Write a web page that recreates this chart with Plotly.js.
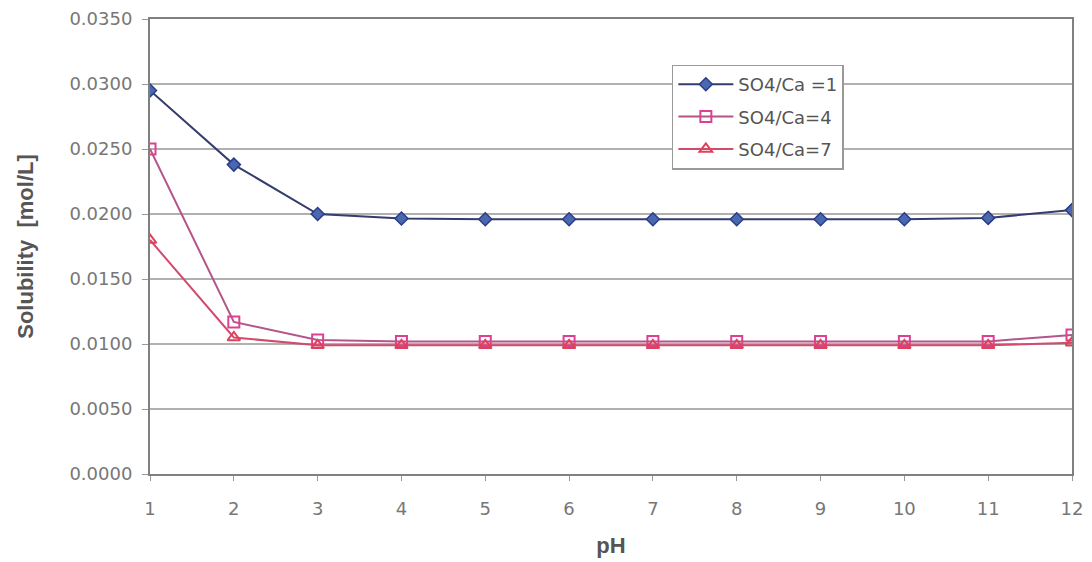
<!DOCTYPE html>
<html>
<head>
<meta charset="utf-8">
<script src="https://cdn.plot.ly/plotly-3.0.1.min.js"></script>
<style>html,body{margin:0;padding:0;background:#fff;}#chart{width:1092px;height:562px;}</style>
</head>
<body>
<div id="chart"></div>
<script>
const pH = [1, 2, 3, 4, 5, 6, 7, 8, 9, 10, 11, 12];
const ratio1 = [0.0295, 0.0238, 0.0200, 0.01965, 0.0196, 0.0196, 0.0196, 0.0196, 0.0196, 0.0196, 0.0197, 0.0203];
const ratio4 = [0.0250, 0.0117, 0.0103, 0.0102, 0.0102, 0.0102, 0.0102, 0.0102, 0.0102, 0.0102, 0.0102, 0.0107];
const ratio7 = [0.0180, 0.0105, 0.0099, 0.0099, 0.0099, 0.0099, 0.0099, 0.0099, 0.0099, 0.0099, 0.0099, 0.0101];
const seriesNames = ["SO4/Ca =1", "SO4/Ca=4", "SO4/Ca=7"];
const yTicks = [0, 0.005, 0.010, 0.015, 0.020, 0.025, 0.030, 0.035];

const traces = [
  {x: pH, y: ratio1, name: seriesNames[0], legendgroup: "a", mode: "lines+markers",
   line: {color: "#353c6e", width: 2},
   marker: {symbol: "diamond", size: 10, color: "#4a68b0", line: {color: "#2c3c86", width: 1.5}}},
  {x: pH, y: ratio4, name: seriesNames[1], legendgroup: "b", mode: "lines+markers",
   line: {color: "#b4558a", width: 2},
   marker: {symbol: "square-open", size: 11, color: "#dd4090", line: {width: 2}}},
  {x: pH, y: ratio7, name: seriesNames[2], legendgroup: "c", mode: "lines+markers",
   line: {color: "#d24a6c", width: 2},
   marker: {symbol: "triangle-up-open", size: 11, color: "#e0405a", line: {width: 2}}}
];

const layout = {
  width: 1092, height: 562,
  paper_bgcolor: "#fff", plot_bgcolor: "#fff",
  margin: {l: 150, r: 20, t: 19, b: 88},
  showlegend: true,
  legend: {x: 0.566, y: 0.9, xanchor: "left", yanchor: "top",
    bgcolor: "#fff", bordercolor: "#999", borderwidth: 1.5,
    font: {family: "DejaVu Sans", size: 18, color: "#555"},
    traceorder: "grouped", tracegroupgap: 6, itemwidth: 55},
  xaxis: {
    range: [1, 12], tickvals: pH, ticktext: pH.map(String),
    showgrid: false, zeroline: false,
    showline: true, linecolor: "#808080", linewidth: 2, mirror: true,
    ticks: "outside", ticklen: 5, tickcolor: "#999",
    ticklabelstandoff: 12,
    tickfont: {family: "DejaVu Sans", size: 18, color: "#777"},
    title: {text: "pH", font: {family: "Liberation Sans", size: 22, color: "#555", weight: "bold"}, standoff: 20}
  },
  yaxis: {
    range: [0, 0.035], tickvals: yTicks, ticktext: yTicks.map(v => v.toFixed(4)),
    showgrid: true, gridcolor: "#b0b0b0", gridwidth: 1.5, zeroline: false,
    showline: true, linecolor: "#808080", linewidth: 2, mirror: true,
    ticks: "outside", ticklen: 6, tickcolor: "#999",
    ticklabelstandoff: 6,
    tickfont: {family: "DejaVu Sans", size: 18, color: "#777"},
    title: {text: "Solubility  [mol/L]", font: {family: "Liberation Sans", size: 22, color: "#555", weight: "bold"}, standoff: 30}
  }
};

Plotly.newPlot("chart", traces, layout, {displayModeBar: false, staticPlot: true});
</script>
</body>
</html>
